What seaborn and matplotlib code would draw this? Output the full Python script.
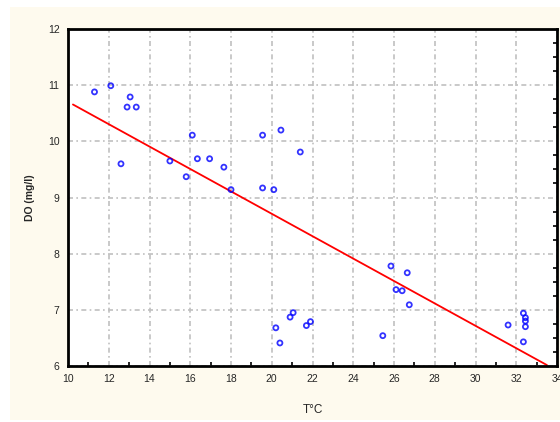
import numpy as np
import pandas as pd
import seaborn as sns
import matplotlib.pyplot as plt
from matplotlib.patches import Rectangle
from matplotlib.ticker import MultipleLocator

# Values
temp_c = [11.3, 12.1, 12.9, 13.05, 13.35, 12.6, 16.1, 15.0, 16.35, 16.95,
          17.65, 15.8, 18.0, 19.55, 20.45, 21.4, 19.55, 20.1, 20.9, 21.05,
          20.2, 20.4, 21.7, 21.9, 25.85, 26.65, 26.1, 26.4, 26.75, 25.45,
          31.6, 32.35, 32.45, 32.45, 32.45, 32.35]
do_mgl = [10.88, 10.99, 10.61, 10.79, 10.61, 9.60, 10.11, 9.65, 9.69, 9.69,
          9.54, 9.37, 9.14, 10.11, 10.20, 9.81, 9.17, 9.14, 6.87, 6.95,
          6.68, 6.41, 6.72, 6.79, 7.78, 7.66, 7.36, 7.34, 7.09, 6.54,
          6.73, 6.94, 6.86, 6.80, 6.70, 6.43]
x_ticks = list(range(10, 36, 2))
y_ticks = list(range(6, 13))

data = pd.DataFrame({"T": temp_c, "DO": do_mgl})

sns.set_style("white")
plt.rcParams["font.family"] = ["Liberation Sans", "DejaVu Sans"]

fig = plt.figure(figsize=(5.6, 4.22), dpi=100, facecolor="white")
# cream panel behind the plot, as in the reference
fig.patches.append(Rectangle((10 / 560, 2 / 422), 550 / 560, 413 / 422,
                             transform=fig.transFigure, facecolor="#fefaee",
                             edgecolor="none", zorder=-10))
ax = fig.add_axes([68 / 560, 56 / 422, 489 / 560, 337 / 422])
ax.set_facecolor("white")

sns.regplot(data=data, x="T", y="DO", ax=ax, ci=None, truncate=False,
            marker="o",
            scatter_kws={"s": 13, "facecolors": "none", "edgecolors": "#0000ff",
                         "linewidths": 1.3, "zorder": 3},
            line_kws={"color": "#ff0000", "lw": 1.3, "zorder": 2})

ax.set_xlim(10, 34)
ax.set_ylim(6, 12)
ax.set_xticks(x_ticks)
ax.set_yticks(y_ticks)
ax.xaxis.set_minor_locator(MultipleLocator(1))
ax.yaxis.set_minor_locator(MultipleLocator(0.25))
ax.grid(True, which="major", color="#c0c0c0", lw=1.2, linestyle=(0, (3, 2, 1, 2)))
ax.tick_params(which="both", direction="in", labelsize=7.5, pad=6)
ax.tick_params(which="major", length=0)
ax.tick_params(which="minor", length=3, width=1.2, color="black",
               bottom=True, right=True, left=False, top=False)
for side in ["left", "bottom", "top", "right"]:
    ax.spines[side].set_color("black")
    ax.spines[side].set_linewidth(2)

ax.set_xlabel("T°C", fontsize=8.5, labelpad=14)
ax.set_ylabel("DO (mg/l)", fontsize=7.5, fontweight="bold", labelpad=9)

fig.savefig("out.png", dpi=100, facecolor=fig.get_facecolor())
